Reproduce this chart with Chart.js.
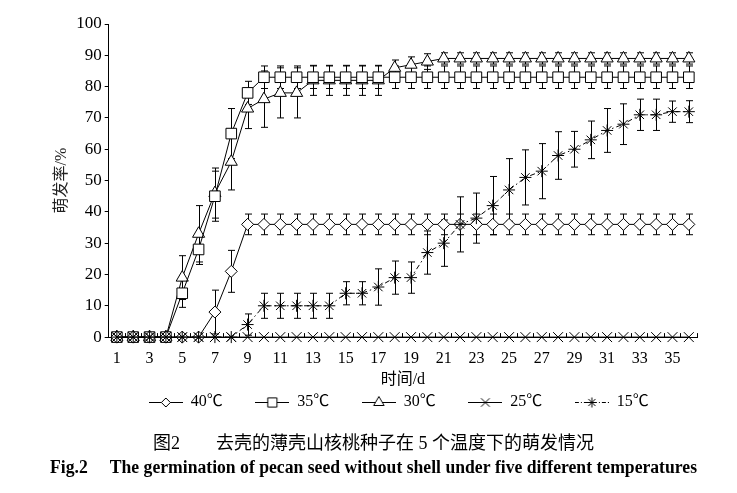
<!DOCTYPE html>
<html>
<head>
<meta charset="utf-8">
<script src="https://cdn.jsdelivr.net/npm/chart.js@4/dist/chart.umd.min.js"></script>
<style>
  html, body { margin: 0; padding: 0; background: #fff; }
  #wrap { width: 737px; height: 493px; }
</style>
</head>
<body>
<div id="wrap"><canvas id="germChart"></canvas></div>
<script>
// days after sowing
const days = [1, 2, 3, 4, 5, 6, 7, 8, 9, 10, 11, 12, 13, 14, 15, 16, 17, 18,
  19, 20, 21, 22, 23, 24, 25, 26, 27, 28, 29, 30, 31, 32, 33, 34, 35, 36];
const labeledDays = [1, 3, 5, 7, 9, 11, 13, 15, 17, 19, 21, 23, 25, 27, 29, 31, 33, 35];
const yTicks = [0, 10, 20, 30, 40, 50, 60, 70, 80, 90, 100];

const seriesNames = ["40℃", "35℃", "30℃", "25℃", "15℃"];

// germination rate (%)
const rate40 = [0, 0, 0, 0, 0, 0, 8, 21, 36, 36, 36, 36, 36, 36, 36, 36, 36, 36,
  36, 36, 36, 36, 36, 36, 36, 36, 36, 36, 36, 36, 36, 36, 36, 36, 36, 36];
const rate35 = [0, 0, 0, 0, 14, 28, 45, 65, 78, 83, 83, 83, 83, 83, 83, 83, 83, 83,
  83, 83, 83, 83, 83, 83, 83, 83, 83, 83, 83, 83, 83, 83, 83, 83, 83, 83];
const rate30 = [0, 0, 0, 0, 19, 33, 46, 56, 73, 76, 78, 78, 82, 82, 82, 82, 82, 86,
  87, 88, 89, 89, 89, 89, 89, 89, 89, 89, 89, 89, 89, 89, 89, 89, 89, 89];
const rate25 = [0, 0, 0, 0, 0, 0, 0, 0, 0, 0, 0, 0, 0, 0, 0, 0, 0, 0,
  0, 0, 0, 0, 0, 0, 0, 0, 0, 0, 0, 0, 0, 0, 0, 0, 0, 0];
const rate15 = [0, 0, 0, 0, 0, 0, 0, 0, 4, 10, 10, 10, 10, 10, 14, 14, 16, 19,
  19, 27, 30, 36, 38, 42, 47, 51, 53, 58, 60, 63, 66, 68, 71, 71, 72, 72];

// standard errors (+/-)
const err40 = [0, 0, 0, 0, 0, 0, 7, 6.7, 3.3, 3.3, 3.3, 3.3, 3.3, 3.3, 3.3, 3.3, 3.3, 3.3,
  3.3, 3.3, 3.3, 3.3, 3.3, 3.3, 3.3, 3.3, 3.3, 3.3, 3.3, 3.3, 3.3, 3.3, 3.3, 3.3, 3.3, 3.3];
const err35 = [0, 0, 0, 0, 4.5, 4.8, 8, 8, 3.7, 3.6, 3.6, 3.6, 3.6, 3.6, 3.6, 3.6, 3.6, 3.6,
  3.6, 3.6, 3.6, 3.6, 3.6, 3.6, 3.6, 3.6, 3.6, 3.6, 3.6, 3.6, 3.6, 3.6, 3.6, 3.6, 3.6, 3.6];
const err30 = [0, 0, 0, 0, 7, 9, 8, 9, 6.4, 9, 8, 8, 4.8, 4.8, 4.8, 4.8, 4.8, 2.5,
  2.5, 2.5, 1.8, 1.8, 1.8, 1.8, 1.8, 1.8, 1.8, 1.8, 1.8, 1.8, 1.8, 1.8, 1.8, 1.8, 1.8, 1.8];
const err15 = [0, 0, 0, 0, 0, 0, 0, 0, 3.4, 4, 4, 4, 4, 4, 3.7, 3.7, 5.8, 5.3,
  5, 6.9, 7.4, 8.8, 8, 9.3, 10, 8.8, 8.8, 7.6, 5.7, 6, 7, 6.5, 5, 5, 3.4, 3.5];

const captionCn = "图2　　去壳的薄壳山核桃种子在 5 个温度下的萌发情况";
const captionEn = "Fig.2　 The germination of pecan seed without shell under five different temperatures";

const serif = "'Liberation Serif', 'Times New Roman', 'Noto Sans CJK SC', serif";

function makeSeries(i, data, errors, pointStyle, radius, dash, order) {
  return {
    label: seriesNames[i],
    data: data,
    errors: errors,
    borderColor: "#000",
    borderWidth: 1,
    borderDash: dash,
    pointStyle: pointStyle,
    pointRadius: radius,
    pointBorderWidth: 1,
    pointBorderColor: "#000",
    pointBackgroundColor: "#fff",
    tension: 0,
    clip: false,
    order: order
  };
}

// small line+marker pictures for the legend
function legendIcon(pointStyle, radius, dash) {
  const c = document.createElement("canvas");
  c.width = 34;
  c.height = 14;
  const g = c.getContext("2d");
  g.strokeStyle = "#000";
  g.lineWidth = 1;
  g.setLineDash(dash);
  g.beginPath();
  g.moveTo(0, 7.5);
  g.lineTo(34, 7.5);
  g.stroke();
  g.setLineDash([]);
  g.fillStyle = "#fff";
  Chart.helpers.drawPoint(g, { pointStyle: pointStyle, radius: radius, borderWidth: 1, rotation: 0 }, 17, 7.5);
  return c;
}

const icons = [
  legendIcon("rectRot", 4.5, []),
  legendIcon("rect", 6.5, []),
  legendIcon("triangle", 6, []),
  legendIcon("crossRot", 6, []),
  legendIcon("star", 5, [4, 2, 1, 2])
];

// vertical error bars with caps, drawn under the markers
const errorBars = {
  id: "errorBars",
  beforeDatasetsDraw(chart) {
    const { ctx, scales: { x, y } } = chart;
    ctx.save();
    ctx.strokeStyle = "#000";
    ctx.lineWidth = 1;
    chart.data.datasets.forEach((ds) => {
      if (!ds.errors) return;
      ds.data.forEach((v, j) => {
        const e = ds.errors[j];
        if (!e) return;
        const px = Math.round(x.getPixelForValue(j)) + 0.5;
        const top = y.getPixelForValue(v + e);
        const bot = y.getPixelForValue(v - e);
        ctx.beginPath();
        ctx.moveTo(px, top);
        ctx.lineTo(px, bot);
        ctx.moveTo(px - 3.5, top);
        ctx.lineTo(px + 3.5, top);
        ctx.moveTo(px - 3.5, bot);
        ctx.lineTo(px + 3.5, bot);
        ctx.stroke();
      });
    });
    ctx.restore();
  }
};

const ctx = document.getElementById("germChart").getContext("2d");

const germChart = new Chart(ctx, {
  type: "line",
  data: {
    labels: days,
    datasets: [
      makeSeries(0, rate40, err40, "rectRot", 6, [], 2),
      makeSeries(1, rate35, err35, "rect", 7.5, [], 2),
      makeSeries(2, rate30, err30, "triangle", 7, [], 2),
      makeSeries(3, rate25, null, "crossRot", 7, [], 1),
      makeSeries(4, rate15, err15, "star", 6, [5, 3, 1.5, 3], 1)
    ]
  },
  options: {
    animation: false,
    responsive: true,
    maintainAspectRatio: false,
    layout: { padding: { top: 24, left: 50, right: 40, bottom: 0 } },
    plugins: {
      legend: {
        position: "bottom",
        fullSize: false,
        labels: {
          usePointStyle: true,
          pointStyleWidth: 34,
          padding: 24.5,
          color: "#000",
          font: { family: serif, size: 16 },
          // en space after each name keeps the items apart
          generateLabels: (chart) => chart.data.datasets.map((ds, i) => ({
            text: ds.label + "\u2002",
            pointStyle: icons[i],
            datasetIndex: i,
            fontColor: "#000",
            fillStyle: "#fff",
            strokeStyle: "#000",
            lineWidth: 0,
            hidden: false
          }))
        }
      },
      subtitle: {
        display: true,
        position: "bottom",
        text: captionCn,
        color: "#000",
        font: { family: "'Liberation Serif', 'Noto Sans CJK SC', serif", size: 18, weight: "normal" },
        padding: { top: 13, bottom: 0 }
      },
      title: {
        display: true,
        position: "bottom",
        text: captionEn,
        color: "#000",
        font: { family: serif, size: 18, weight: "bold" },
        padding: { top: 3, bottom: 13.8 }
      },
      tooltip: { enabled: false }
    },
    scales: {
      x: {
        type: "category",
        offset: true,
        grid: { offset: true, drawOnChartArea: false, tickLength: -4, color: "#000" },
        border: { color: "#000", width: 1 },
        ticks: {
          autoSkip: false,
          maxRotation: 0,
          padding: 16,
          color: "#000",
          font: { family: serif, size: 16 },
          callback: function (value, index) {
            const d = days[index];
            return labeledDays.includes(d) ? String(d) : "";
          }
        },
        title: {
          display: true,
          text: "时间/d",
          color: "#000",
          font: { family: serif, size: 16 },
          padding: { top: -14, bottom: -20 }
        }
      },
      y: {
        min: 0,
        max: 100,
        afterBuildTicks: (axis) => { axis.ticks = yTicks.map((v) => ({ value: v })); },
        grid: { drawOnChartArea: false, tickLength: 4, color: "#000" },
        border: { color: "#000", width: 1 },
        ticks: {
          padding: 3,
          color: "#000",
          font: { family: serif, size: 17 }
        },
        title: {
          display: true,
          text: "萌发率/%",
          color: "#222",
          font: { family: serif, size: 16 },
          padding: { top: 2, bottom: 2 }
        }
      }
    }
  },
  plugins: [errorBars]
});
</script>
</body>
</html>
